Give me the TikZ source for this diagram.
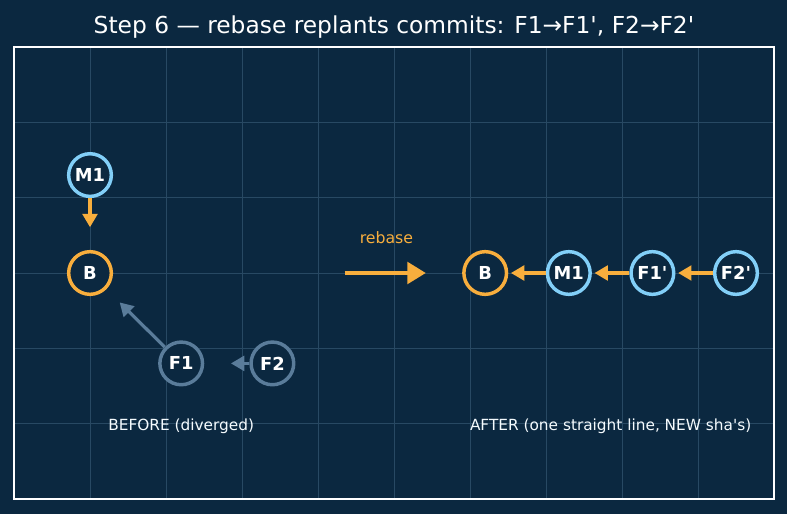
\documentclass[tikz,border=0pt]{standalone}
\usepackage{fontspec}
\setmainfont{DejaVu Sans}
\usetikzlibrary{arrows.meta}

\definecolor{bgnavy}{HTML}{0B2840}
\definecolor{gridblue}{HTML}{284963}
\definecolor{gitorange}{HTML}{F8AE3D}
\definecolor{gitblue}{HTML}{82CFF8}
\definecolor{oldgrey}{HTML}{5A7C9A}

\begin{document}
\begin{tikzpicture}[
		x=57pt, y=56.5pt,
		commit/.style={circle, draw, line width=2.6pt, fill=bgnavy, minimum size=32pt, inner sep=0pt, text=white, font=\bfseries\fontsize{13.4}{15}\selectfont},
		newline/.style={commit, draw=gitblue},
		base/.style={commit, draw=gitorange},
		stale/.style={commit, draw=oldgrey},
		caption/.style={text=white!92!gitblue, font=\fontsize{11.5}{14}\selectfont},
		arrow/.style={-{Triangle[length=10pt, width=11pt]}, line width=2.4pt, draw=gitorange},
		gridline/.style={draw=gridblue, line width=0.7pt}
	]

	% Background and frame
	\fill[bgnavy] (-0.1842,-0.1991) rectangle (10.171,6.624);
	\useasboundingbox (-0.1842,-0.1991) rectangle (10.171,6.624);
	\foreach \gx in {1,...,9} \draw[gridline] (\gx,0) -- (\gx,6);
	\foreach \gy in {1,...,5} \draw[gridline] (0,\gy) -- (10,\gy);
	\draw[white, line width=1.2pt] (0,0) rectangle (10,6);

	\node[text=white, font=\fontsize{17.5}{21}\selectfont] (title) at (5,6.26) {Step 6 — rebase replants commits: F1→F1\textquotesingle, F2→F2\textquotesingle};

	% Nodes (before)
	\node[newline] (bM1) at (1,4.3) {M1};
	\node[base] (bB) at (1,3) {B};
	\node[stale] (bF1) at (2.2,1.8) {F1};
	\node[stale] (bF2) at ([xshift=1.2*57pt]bF1) {F2};
	\node[caption] (before) at (2.2,0.96) {BEFORE (diverged)};

	% Nodes (after)
	\node[base] (aB) at (6.2,3) {B};
	\node[newline] (aM1) at ([xshift=1.1*57pt]aB) {M1};
	\node[newline] (aF1) at ([xshift=1.1*57pt]aM1) {F1\textquotesingle};
	\node[newline] (aF2) at ([xshift=1.1*57pt]aF1) {F2\textquotesingle};
	\node[caption] (after) at (7.85,0.96) {AFTER (one straight line, NEW sha\textquotesingle s)};

	\coordinate (rebaseL) at (4.35,3);
	\coordinate (rebaseR) at (5.42,3);
	\node[text=gitorange, font=\fontsize{11.8}{14}\selectfont] (rebaselbl) at (4.9,3.47) {rebase};

	% Connections
	\draw[arrow, shorten >=17pt] (bM1) -- (bB);
	\draw[arrow, draw=oldgrey, shorten >=14pt] (bF1) -- (bB);
	\draw[arrow, draw=oldgrey, shorten >=20pt] (bF2) -- (bF1);

	\draw[arrow, line width=3.4pt, -{Triangle[length=14pt, width=16pt]}] (rebaseL) -- (rebaseR);

	\draw[arrow, shorten >=2pt] (aM1) -- (aB);
	\draw[arrow, shorten >=2pt] (aF1) -- (aM1);
	\draw[arrow, shorten >=2pt] (aF2) -- (aF1);

\end{tikzpicture}
\end{document}
